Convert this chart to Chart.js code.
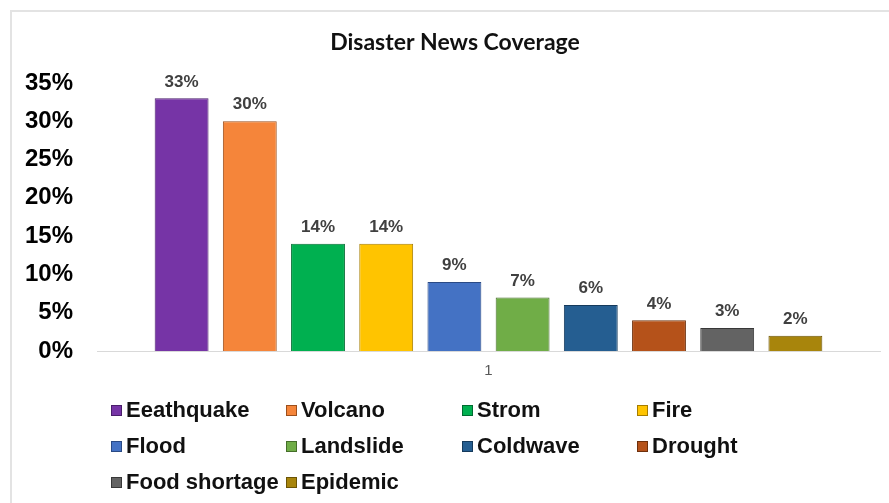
<!DOCTYPE html>
<html lang="en">
<head>
  <meta charset="UTF-8" />
  <title>Disaster News Coverage</title>
  <script src="https://cdn.jsdelivr.net/npm/chart.js"></script>
  <style>
    html, body {
      margin: 0;
      padding: 0;
      background: #fff;
      overflow: hidden;
    }
    .frame {
      position: absolute;
      left: 10px;
      top: 10px;
      width: 960px;
      height: 600px;
      border: 2px solid #e3e3e3;
    }
    .wrap {
      position: absolute;
      left: 0;
      top: 0;
      width: 889px;
      height: 503px;
    }
  </style>
</head>
<body>
  <div class="frame"></div>
  <div class="wrap">
    <canvas id="newsChart" width="889" height="503"></canvas>
  </div>

  <script>
    // data
    const categories = ['1'];
    const disasters = ['Eeathquake', 'Volcano', 'Strom', 'Fire', 'Flood',
                       'Landslide', 'Coldwave', 'Drought', 'Food shortage', 'Epidemic'];
    const coverage = [33, 30, 14, 14, 9, 7, 6, 4, 3, 2];
    const yTicks = [0, 5, 10, 15, 20, 25, 30, 35];

    const colors = ['#7634a6', '#f5853a', '#00b050', '#ffc400', '#4472c4',
                    '#70ad47', '#255e91', '#b5521a', '#636363', '#a8850c'];
    const edges  = ['#4a1e6b', '#9c4f1c', '#006b30', '#a67d00', '#2a4a85',
                    '#456e2a', '#153a5c', '#6e300c', '#383838', '#6b5405'];

    const datasets = disasters.map((name, i) => ({
      label: name,
      data: [coverage[i]],
      backgroundColor: colors[i],
      borderColor: edges[i],
      borderWidth: 1,
      categoryPercentage: 0.871,
      barPercentage: 0.79
    }));

    // title, value labels and the 4-column legend
    const decorations = {
      id: 'decorations',
      afterDatasetsDraw(chart) {
        const ctx = chart.ctx;
        ctx.save();

        // value labels
        ctx.font = 'bold 17px "Liberation Sans", Arial, sans-serif';
        ctx.fillStyle = '#404040';
        ctx.textAlign = 'center';
        ctx.textBaseline = 'bottom';
        chart.data.datasets.forEach((ds, i) => {
          const bar = chart.getDatasetMeta(i).data[0];
          ctx.fillText(ds.data[0] + '%', bar.x, bar.y - 8);
        });

        // title
        ctx.font = 'bold 23px Lato, "Open Sans", sans-serif';
        ctx.fillStyle = '#111';
        ctx.textBaseline = 'middle';
        ctx.fillText('Disaster News Coverage', 455, 43);

        // legend
        const colX = [111, 286, 462, 637];
        const rowY = [410, 446, 482];
        ctx.font = 'bold 22px "Liberation Sans", Arial, sans-serif';
        ctx.textAlign = 'left';
        chart.data.datasets.forEach((ds, i) => {
          const x = colX[i % 4];
          const y = rowY[Math.floor(i / 4)];
          ctx.fillStyle = ds.backgroundColor;
          ctx.fillRect(x, y - 5, 11, 11);
          ctx.strokeStyle = ds.borderColor;
          ctx.lineWidth = 1;
          ctx.strokeRect(x + 0.5, y - 4.5, 10, 10);
          ctx.fillStyle = '#111';
          ctx.fillText(ds.label, x + 15, y + 1);
        });

        ctx.restore();
      }
    };

    new Chart(document.getElementById('newsChart'), {
      type: 'bar',
      data: { labels: categories, datasets: datasets },
      plugins: [decorations],
      options: {
        responsive: false,
        animation: false,
        layout: { padding: { top: 83, right: 9, bottom: 112, left: 0 } },
        plugins: {
          legend: { display: false },
          title: { display: false },
          tooltip: { enabled: false }
        },
        scales: {
          x: {
            grid: { display: false, drawTicks: false },
            border: { color: '#d9d9d9', width: 1 },
            ticks: {
              padding: 11,
              color: '#595959',
              font: { family: '"Liberation Sans", Arial, sans-serif', size: 15 }
            },
            afterFit(scale) { scale.height = 40; }
          },
          y: {
            min: yTicks[0],
            max: yTicks[yTicks.length - 1],
            grid: { display: false, drawTicks: false },
            border: { display: false },
            afterBuildTicks(scale) { scale.ticks = yTicks.map(v => ({ value: v })); },
            ticks: {
              padding: 24,
              color: '#000',
              font: { family: '"Liberation Sans", Arial, sans-serif', size: 24, weight: 'bold' },
              callback: v => v + '%'
            },
            afterFit(scale) { scale.width = 97; }
          }
        }
      }
    });
  </script>
</body>
</html>
